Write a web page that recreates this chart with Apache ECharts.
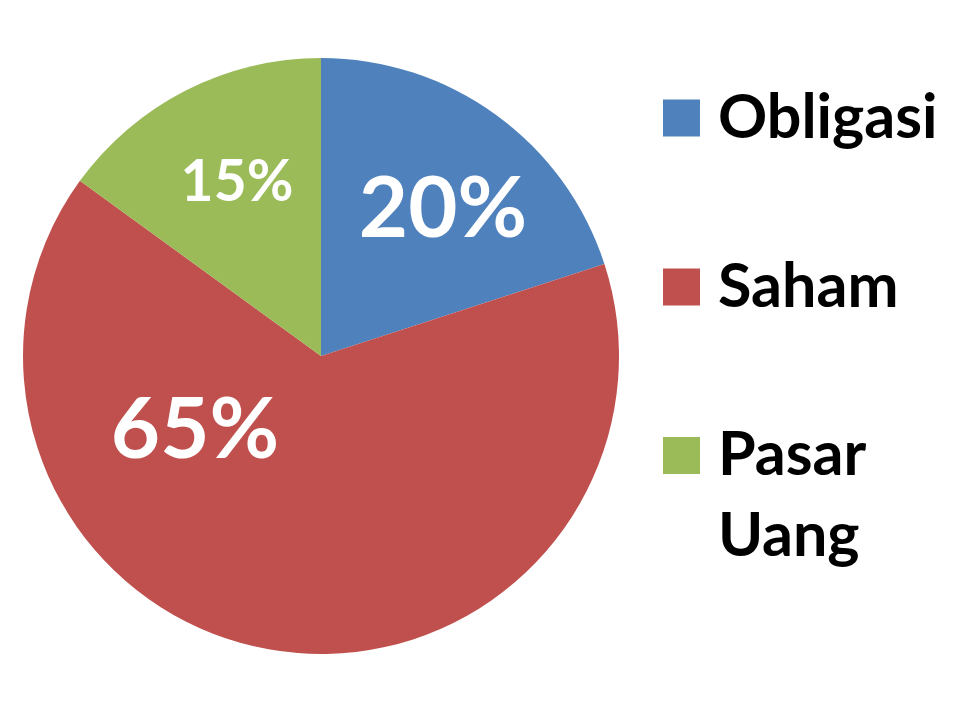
<!DOCTYPE html>
<html>
<head>
<meta charset="utf-8">
<script src="https://cdn.jsdelivr.net/npm/echarts@6/dist/echarts.min.js"></script>
<style>
  html, body { margin: 0; padding: 0; background: #fff; }
  #main { width: 960px; height: 720px; }
</style>
</head>
<body>
<div id="main"></div>
<script>
// data
const categories = ['Obligasi', 'Saham', 'Pasar Uang'];
const shares = [20, 65, 15];
const colors = ['#4F81BD', '#C0504D', '#9BBB59'];

// label spots and sizes (Excel labels were dragged by hand)
const labelSpots = [[443, 210], [195, 431], [237, 183]];
const labelSizes = [85, 85, 57];
const legendTops = [87, 256, 334];

const myChart = echarts.init(document.getElementById('main'));

const font = 'Lato, "Liberation Sans", sans-serif';

const legends = categories.map((name, i) => {
  const twoLine = name.indexOf(' ') > 0;
  return {
    orient: 'vertical',
    left: 663,
    top: legendTops[i],
    padding: 0,
    itemWidth: 37,
    itemHeight: 37,
    icon: 'rect',
    selectedMode: false,
    data: [name],
    // blank first line keeps "Pasar" level with the square, "Uang" below it
    formatter: n => (twoLine ? '\n' : '') + n.replace(' ', '\n'),
    textStyle: {
      fontFamily: font,
      fontWeight: 'bold',
      fontSize: 61,
      color: '#000',
      lineHeight: twoLine ? 81 : 62,
      padding: [0, 0, 0, 13]
    }
  };
});

const option = {
  animation: false,
  color: colors,
  legend: legends,
  series: [
    {
      type: 'pie',
      center: [321, 356],
      radius: 298,
      startAngle: 90,
      clockwise: true,
      silent: true,
      data: categories.map((name, i) => ({
        name: name,
        value: shares[i],
        label: { fontSize: labelSizes[i] }
      })),
      itemStyle: { borderWidth: 0 },
      label: {
        show: true,
        position: 'inside',
        formatter: '{c}%',
        color: '#fff',
        fontFamily: font,
        fontWeight: 'bold'
      },
      labelLine: { show: false },
      labelLayout: p => ({
        x: labelSpots[p.dataIndex][0],
        y: labelSpots[p.dataIndex][1]
      })
    }
  ]
};

option && myChart.setOption(option);
</script>
</body>
</html>
